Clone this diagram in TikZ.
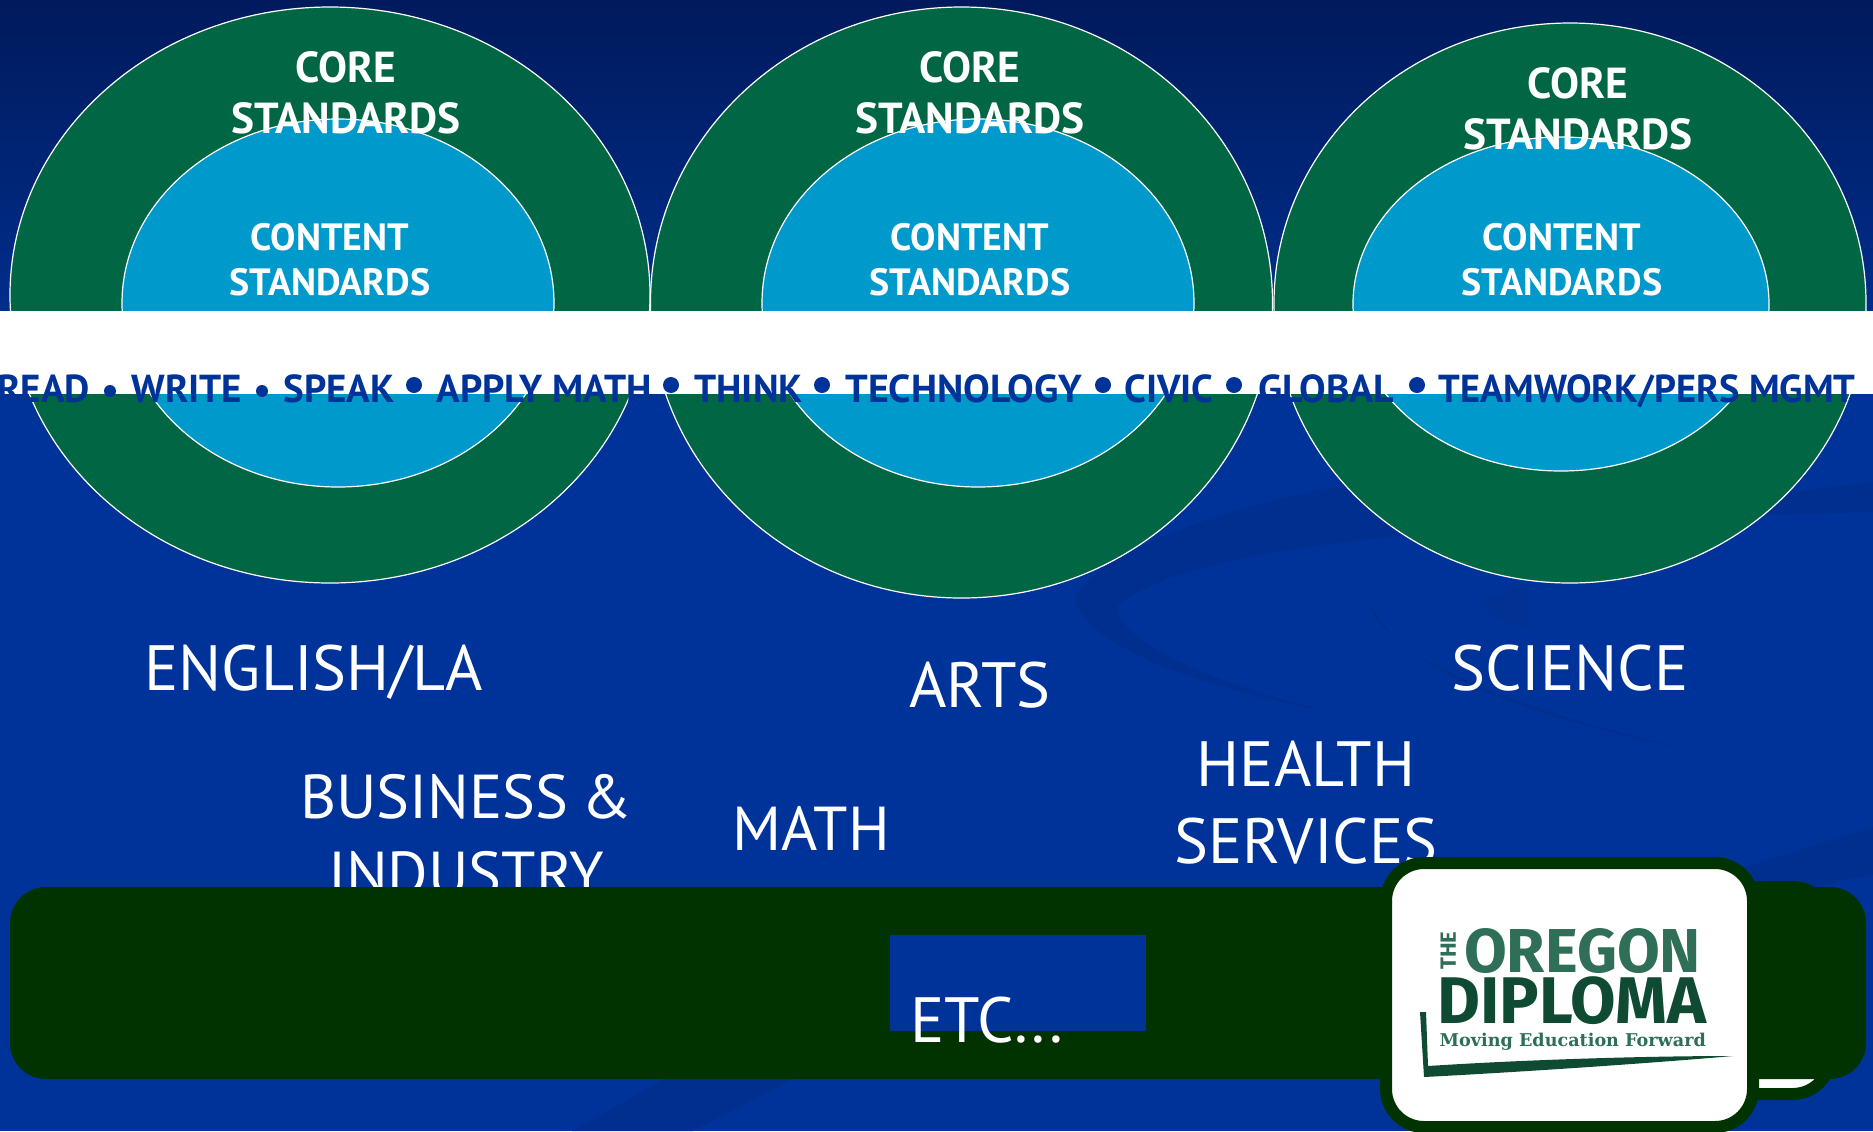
\documentclass[tikz,border=0pt]{standalone}
\usepackage{fontspec}
\setmainfont{PT Sans}
\newfontfamily\stampfont{Fira Sans}
\newfontfamily\slabfont{DejaVu Serif}
\usetikzlibrary{positioning,shapes.geometric}
\definecolor{navytop}{HTML}{001A5C}
\definecolor{slideblue}{HTML}{003399}
\definecolor{swooshblue}{HTML}{002F8F}
\definecolor{faintblue}{HTML}{003193}
\definecolor{coregreen}{HTML}{006644}
\definecolor{contentblue}{HTML}{0099CC}
\definecolor{bargreen}{HTML}{003300}
\definecolor{stampgreen}{HTML}{2F6F57}
\definecolor{stampdark}{HTML}{0F4A33}
\tikzset{
  coreoval/.style={ellipse,draw=white,line width=0.6pt,fill=coregreen,inner sep=0pt},
  contentoval/.style={ellipse,draw=white,line width=0.6pt,fill=contentblue,inner sep=0pt},
  corelabel/.style={white,font=\fontsize{21.7}{25.5}\selectfont\bfseries,align=center,inner sep=0pt},
  contentlabel/.style={white,font=\fontsize{19}{22.4}\selectfont\bfseries,align=center,inner sep=0pt},
  skilltext/.style={text=slideblue,font=\fontsize{19.5}{22}\selectfont\bfseries,inner sep=0pt,anchor=base west},
  dotmark/.style={circle,fill=slideblue,inner sep=0pt},
  subject/.style={white,font=\fontsize{32}{38.5}\selectfont,align=center,inner sep=0pt},
  subjectnarrow/.style={subject,font=\fontsize{31}{38.5}\selectfont},
  framebox/.style={draw=bargreen,line width=6pt,fill=white,rounded corners=19pt}
}
\begin{document}
\begin{tikzpicture}[x=0.5pt,y=-0.5pt]
\useasboundingbox (0,0) rectangle (1873,1131);
% slide background
\shade[top color=navytop,bottom color=slideblue] (0,0) rectangle (1873,400);
\fill[slideblue] (0,399) rectangle (1873,1131);
\fill[swooshblue] (1075,600) .. controls (1085,560) and (1210,510) .. (1334,487) -- (1790,493) .. controls (1820,488) and (1850,484) .. (1873,482) -- (1873,512) .. controls (1600,520) and (1200,530) .. (1117,607) .. controls (1120,640) and (1200,680) .. (1334,713) .. controls (1210,690) and (1090,650) .. (1075,600) -- cycle;
\fill[swooshblue] (1367,597) .. controls (1375,650) and (1500,710) .. (1724,757) .. controls (1560,725) and (1400,680) .. (1367,597) -- cycle;
\fill[faintblue] (1479,600) .. controls (1485,615) and (1505,625) .. (1529,627) .. controls (1525,610) and (1528,595) .. (1529,583) -- cycle;
\fill[swooshblue] (572,1131) -- (664,1079) .. controls (1000,900) and (1500,930) .. (1745,867) .. controls (1790,853) and (1830,840) .. (1873,827) -- (1873,875) .. controls (1850,878) and (1830,883) .. (1816,887) .. controls (1500,960) and (1000,960) .. (793,1079) -- (693,1131) -- cycle;
% ovals
\node[coreoval,minimum width=320pt,minimum height=288pt] (coreA) at (330,295) {};
\node[coreoval,minimum width=311pt,minimum height=295.5pt] (coreB) at (961.5,302.5) {};
\node[coreoval,minimum width=296pt,minimum height=280pt] (coreC) at (1570,303) {};
\node[contentoval,minimum width=216pt,minimum height=184pt] (contentA) at (338,303) {};
\node[contentoval,minimum width=216pt,minimum height=184pt] (contentB) at (978,303) {};
\node[contentoval,minimum width=208pt,minimum height=167pt] (contentC) at (1561,304) {};
\node[corelabel] (coreTextA) at (346,92.5) {CORE\\STANDARDS};
\node[corelabel] (coreTextB) at (970,92.5) {CORE\\STANDARDS};
\node[corelabel] (coreTextC) at (1578,108.5) {CORE\\STANDARDS};
\node[contentlabel] (contentTextA) at (330,260) {CONTENT\\STANDARDS};
\node[contentlabel] (contentTextB) at (970,260) {CONTENT\\STANDARDS};
\node[contentlabel] (contentTextC) at (1562,260) {CONTENT\\STANDARDS};
% white band and skills
\fill[white] (0,311) rectangle (1873,394);
\begin{scope}
\clip (0,0) rectangle (1873,1131);
\foreach \wx/\word [count=\n] in {-3/READ,131/WRITE,283/SPEAK,436/APPLY MATH,694/THINK,845/\scalebox{1.025}[1]{TECHNOLOGY},1124/CIVIC,1258/\scalebox{1.02}[1]{GLOBAL},1438/\scalebox{0.983}[1]{TEAMWORK\slash PERS MGMT}}
  \node[skilltext] (skill\n) at (\wx,402) {\word};
\end{scope}
\foreach \dx/\dy/\ds [count=\n] in {110/391/12,262/391/12,414/385/16,671/385/16,822/385/16,1103/385/16,1234/385/16,1417/385/16}
  \node[dotmark,minimum size=\ds*0.5pt] (dot\n) at (\dx,\dy) {};
% subjects
\node[subject] (english) at (314,672) {ENGLISH/LA};
\node[subject] (arts) at (980,685) {ARTS};
\node[subject] (science) at (1570,668) {SCIENCE};
\node[subjectnarrow] (business) at (466,835) {BUSINESS\hspace{-2pt} \&\\INDUSTRY};
\node[subjectnarrow] (math) at (811,828) {MATH};
\node[subject] (health) at (1306,803) {HEALTH\\SERVICES};
% bar and logo
\node[framebox,minimum width=115.5pt,minimum height=103.5pt] (backframe) at (1715,990.5) {};
\fill[bargreen,rounded corners=18pt] (10,887) rectangle (1866,1079);
\fill[slideblue] (890,935) rectangle (1146,1031);
\node[subject] (etc) at (987,1020) {ETC...};
\node[framebox,minimum width=183.5pt,minimum height=132pt] (logoframe) at (1569.5,995) {};
\begin{scope}[rotate around={-3:(1570,960)}]
\node[text=stampgreen,font=\stampfont\bfseries\fontsize{31}{31}\selectfont,inner sep=0pt] (oregon) at (1582,950) {OREGON};
\node[text=stampdark,font=\stampfont\bfseries\fontsize{33}{33}\selectfont,inner sep=0pt] (diploma) at (1574,1000) {DIPLOMA};
\node[text=stampgreen,font=\slabfont\bfseries\fontsize{8.8}{10}\selectfont,inner sep=0pt] (moving) at (1577,1041) {Moving Education Forward};
\node[rotate=90,text=stampgreen,font=\stampfont\bfseries\fontsize{11}{11}\selectfont,inner sep=0pt] (theword) at (1448,957) {THE};
\end{scope}
\fill[stampdark] (1420,1012) -- (1426,1012) -- (1428,1066) .. controls (1520,1060) and (1640,1056) .. (1733,1056) .. controls (1640,1064) and (1520,1072) .. (1424,1077) -- cycle;
\end{tikzpicture}
\end{document}
